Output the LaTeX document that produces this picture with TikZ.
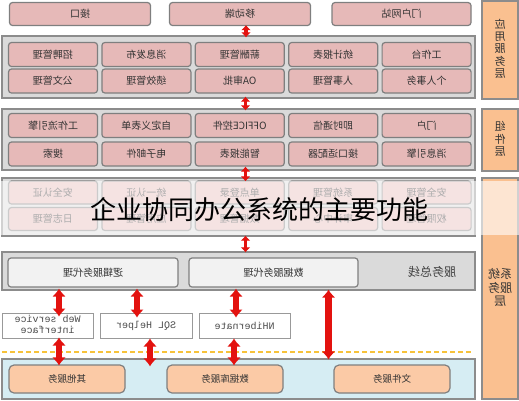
\documentclass[tikz,border=0pt]{standalone}
\usepackage{fontspec}
\usepackage{graphicx}
\usetikzlibrary{arrows.meta}
\setmainfont{Liberation Serif}
\newfontfamily\cjk{Noto Sans CJK SC}
\newfontfamily\mono{Liberation Mono}
% the whole drawing is mirrored, so every label is reflected
\newcommand\mirr[1]{\reflectbox{#1}}
\newcommand\vlabel[2]{\reflectbox{\fontsize{#1}{#1}\selectfont\begin{tabular}{@{}c@{}}#2\end{tabular}}}
\definecolor{boxpink}{HTML}{E6B9B8}
\definecolor{boxline}{HTML}{7F7F7F}
\definecolor{panelgray}{HTML}{DADADA}
\definecolor{sideorange}{HTML}{FAC090}
\definecolor{servorange}{HTML}{FBCAA6}
\definecolor{busbox}{HTML}{F2F2F2}
\definecolor{lowblue}{HTML}{D6EDF3}
\definecolor{arrowred}{HTML}{E3120F}
\definecolor{dashyellow}{HTML}{F7C23A}
\tikzset{
  panel/.style={draw=boxline!90, fill=panelgray, line width=1.3pt, minimum width=473pt, inner sep=0pt},
  func/.style={draw=boxline, fill=boxpink, rounded corners=3pt, line width=1.2pt,
    minimum width=89pt, minimum height=24pt, inner sep=0pt, text=black!80,
    font=\cjk\fontsize{10}{12}\selectfont},
  proxy/.style={func, fill=busbox, minimum height=29pt},
  svc/.style={func, fill=servorange, rounded corners=5pt, minimum width=116pt, minimum height=28pt, font=\cjk\fontsize{9.5}{12}\selectfont},
  midbox/.style={draw=boxline!80, fill=white, line width=1pt, minimum height=25pt, inner sep=0pt,
    text=black!70, font=\mono\fontsize{10}{13}\selectfont},
  side/.style={draw=boxline!90, fill=sideorange, line width=1.2pt, minimum width=36pt, inner sep=0pt,
    text=black!80, font=\cjk},
  dbl/.style={draw=arrowred, line width=3.5pt, {Latex[length=5pt,width=10pt]}-{Latex[length=5pt,width=10pt]}},
  bigdbl/.style={draw=arrowred, line width=5.5pt, {Latex[length=8pt,width=14pt]}-{Latex[length=8pt,width=14pt]}}
}
\begin{document}
\begin{tikzpicture}[x=1pt,y=-1pt]
\useasboundingbox (0,0) rectangle (519,400);
% top row
\node[func, minimum width=141pt, minimum height=23pt] (t1) at (80,14) {\mirr{接口}};
\node[func, minimum width=141pt, minimum height=23pt] (t2) at (240,14) {\mirr{移动端}};
\node[func, minimum width=139pt, minimum height=23pt] (t3) at (401.5,14) {\mirr{门户网站}};
% application layer
\node[panel, minimum height=62pt] (pa) at (238.5,67) {};
\node[func] (a1) at (53,54.5) {\mirr{招聘管理}};
\node[func] (a2) at (146.4,54.5) {\mirr{消息发布}};
\node[func] (a3) at (239.8,54.5) {\mirr{薪酬管理}};
\node[func] (a4) at (333.2,54.5) {\mirr{统计报表}};
\node[func] (a5) at (426.6,54.5) {\mirr{工作台}};
\node[func] (a6) at (53,81) {\mirr{公文管理}};
\node[func] (a7) at (146.4,81) {\mirr{绩效管理}};
\node[func] (a8) at (239.8,81) {\mirr{OA审批}};
\node[func] (a9) at (333.2,81) {\mirr{人事管理}};
\node[func] (a10) at (426.6,81) {\mirr{个人事务}};
% component layer
\node[panel, minimum height=61pt] (pc) at (238.5,139.5) {};
\node[func] (c1) at (53,125.5) {\mirr{工作流引擎}};
\node[func] (c2) at (146.4,125.5) {\mirr{自定义表单}};
\node[func] (c3) at (239.8,125.5) {\mirr{OFFICE控件}};
\node[func] (c4) at (333.2,125.5) {\mirr{即时通信}};
\node[func] (c5) at (426.6,125.5) {\mirr{门户}};
\node[func] (c6) at (53,154) {\mirr{搜索}};
\node[func] (c7) at (146.4,154) {\mirr{电子邮件}};
\node[func] (c8) at (239.8,154) {\mirr{智能报表}};
\node[func] (c9) at (333.2,154) {\mirr{接口适配器}};
\node[func] (c10) at (426.6,154) {\mirr{消息引擎}};
% system layer
\node[panel, minimum height=58pt] (ps) at (238.5,207) {};
\node[func, minimum height=23pt] (s1) at (53,192.5) {\mirr{安全认证}};
\node[func, minimum height=23pt] (s2) at (146.4,192.5) {\mirr{统一认证}};
\node[func, minimum height=23pt] (s3) at (239.8,192.5) {\mirr{单点登录}};
\node[func, minimum height=23pt] (s4) at (333.2,192.5) {\mirr{系统管理}};
\node[func, minimum height=23pt] (s5) at (426.6,192.5) {\mirr{安全管理}};
\node[func, minimum height=23pt] (s6) at (53,219) {\mirr{日志管理}};
\node[func, minimum height=23pt] (s7) at (146.4,219) {\mirr{应用管理}};
\node[func, minimum height=23pt] (s8) at (239.8,219) {\mirr{数据管理}};
\node[func, minimum height=23pt] (s9) at (333.2,219) {\mirr{审计中心}};
\node[func, minimum height=23pt] (s10) at (426.6,219) {\mirr{权限管理}};
% service bus
\node[panel, minimum height=38pt] (pb) at (238.5,271) {};
\node[proxy, minimum width=170pt] (p1) at (93,272.5) {\mirr{逻辑服务代理}};
\node[proxy, minimum width=169pt] (p2) at (273.5,272.5) {\mirr{数据服务代理}};
\node[text=black!75, font=\cjk\fontsize{12}{14}\selectfont] (sb) at (432,272) {\mirr{服务总线}};
% access helpers
\node[midbox, minimum width=91pt] (m1) at (47.5,325.5) {\mirr{\begin{tabular}{@{}c@{}}Web service\\[-2pt]interface\end{tabular}}};
\node[midbox, minimum width=92pt] (m2) at (146,325.5) {\mirr{SQL Helper}};
\node[midbox, minimum width=91pt] (m3) at (244.5,325.5) {\mirr{NHibernate}};
\draw[dashyellow, line width=1.3pt, dash pattern=on 5pt off 3pt] (2,352) -- (473,352);
% base services
\node[panel, fill=lowblue, minimum height=40pt] (pd) at (238.5,379) {};
\node[svc] (b1) at (67,379) {\mirr{其他服务}};
\node[svc] (b2) at (225,379) {\mirr{数据库服务}};
\node[svc] (b3) at (392,379) {\mirr{文件服务}};
% layer names
\node[side, minimum height=98pt] (sd1) at (500,50) {\vlabel{11}{\fontsize{11}{17.5}\selectfont 应\\用\\服\\务\\层}};
\node[side, minimum height=62pt] (sd2) at (500,140) {\vlabel{11}{\fontsize{11}{16.5}\selectfont 组\\件\\层}};
\node[side, minimum height=221pt] (sd3) at (500,288.5) {\vlabel{12}{\fontsize{12}{14.5}\selectfont 系统\\服务\\层}};
% arrows
\draw[dbl, shorten <=-1pt, shorten >=-2pt] ([xshift=6pt]t2.south) -- ([xshift=6pt]t2.south |- pa.north);
\draw[dbl, shorten <=-2pt, shorten >=-2pt] ([xshift=7pt]pa.south) -- ([xshift=7pt]pa.south |- pc.north);
\draw[dbl, shorten <=-4pt, shorten >=-4pt] ([xshift=7pt]pc.south) -- ([xshift=7pt]pc.south |- ps.north);
\draw[dbl, shorten <=-1pt, shorten >=-1pt] ([xshift=7pt]ps.south) -- ([xshift=7pt]ps.south |- pb.north);
\draw[bigdbl, shorten <=-2pt, shorten >=-4pt] ([xshift=11.5pt]m1.north |- pb.south) -- ([xshift=11.5pt]m1.north);
\draw[bigdbl, shorten <=-1pt, shorten >=-1pt] ([xshift=-8pt]b1.north |- m1.south) -- ([xshift=-8pt]b1.north);
\draw[bigdbl, shorten <=-2pt, shorten >=-5pt] ([xshift=-9pt]m2.north |- pb.south) -- ([xshift=-9pt]m2.north);
\draw[bigdbl, shorten <=0pt, shorten >=-8pt] ([xshift=4pt]m2.south) -- ([xshift=4pt]m2.south |- pd.north);
\draw[bigdbl, shorten <=-2pt, shorten >=-5pt] ([xshift=-8.5pt]m3.north |- pb.south) -- ([xshift=-8.5pt]m3.north);
\draw[bigdbl, shorten <=0pt, shorten >=-1pt] ([xshift=9pt]b2.north |- m3.south) -- ([xshift=9pt]b2.north);
\draw[bigdbl, line width=7.5pt, shorten <=-1pt, shorten >=-1pt] ([xshift=90pt]pb.south) -- ([xshift=90pt]pb.south |- pd.north);
% title band over the picture
\fill[white, fill opacity=0.6] (0,181) rectangle (519,235);
\node[text=black, font=\cjk\fontsize{26}{30}\selectfont] (ttl) at (259,210) {企业协同办公系统的主要功能};
\end{tikzpicture}
\end{document}
